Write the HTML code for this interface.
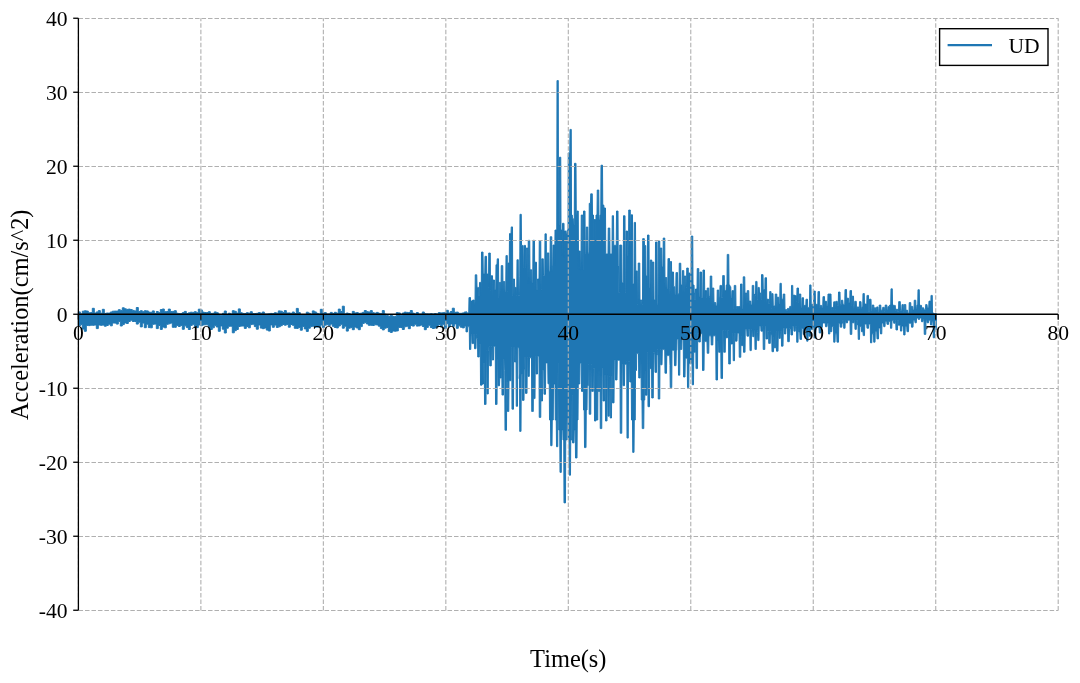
<!DOCTYPE html>
<html><head><meta charset="utf-8"><style>
html,body{margin:0;padding:0;background:#fff;width:1080px;height:683px;overflow:hidden}
svg{display:block;will-change:transform}
.tk{font-family:"Liberation Serif",serif;font-size:21.6px;fill:#000}
.lb{font-family:"Liberation Serif",serif;font-size:24.4px;fill:#000}
</style></head><body>
<svg width="1080" height="683" viewBox="0 0 1080 683">
<polygon points="78.30,311.9 80.30,311.9 80.30,313.9 82.30,313.9 82.30,311.2 84.30,311.2 84.30,310.8 86.30,310.8 86.30,311.1 88.30,311.1 88.30,312.8 90.30,312.8 90.30,312.6 92.30,312.6 92.30,308.3 94.30,308.3 94.30,313.0 96.30,313.0 96.30,311.9 98.30,311.9 98.30,310.6 100.30,310.6 100.30,313.2 102.30,313.2 102.30,309.3 104.30,309.3 104.30,313.4 106.30,313.4 106.30,313.0 108.30,313.0 108.30,313.1 110.30,313.1 110.30,312.0 112.30,312.0 112.30,311.2 114.30,311.2 114.30,311.1 116.30,311.1 116.30,311.1 118.30,311.1 118.30,309.7 120.30,309.7 120.30,310.4 122.30,310.4 122.30,307.8 124.30,307.8 124.30,308.8 126.30,308.8 126.30,309.4 128.30,309.4 128.30,309.1 130.30,309.1 130.30,309.6 132.30,309.6 132.30,310.4 134.30,310.4 134.30,310.9 136.30,310.9 136.30,307.5 138.30,307.5 138.30,311.6 140.30,311.6 140.30,310.7 142.30,310.7 142.30,311.7 144.30,311.7 144.30,310.7 146.30,310.7 146.30,310.9 148.30,310.9 148.30,312.1 150.30,312.1 150.30,312.3 152.30,312.3 152.30,310.9 154.30,310.9 154.30,313.5 156.30,313.5 156.30,311.5 158.30,311.5 158.30,312.7 160.30,312.7 160.30,309.6 162.30,309.6 162.30,309.0 164.30,309.0 164.30,311.7 166.30,311.7 166.30,311.6 168.30,311.6 168.30,309.1 170.30,309.1 170.30,311.6 172.30,311.6 172.30,311.4 174.30,311.4 174.30,310.7 176.30,310.7 176.30,313.2 178.30,313.2 178.30,313.6 180.30,313.6 180.30,313.6 182.30,313.6 182.30,312.6 184.30,312.6 184.30,311.4 186.30,311.4 186.30,313.5 188.30,313.5 188.30,312.8 190.30,312.8 190.30,312.2 192.30,312.2 192.30,312.4 194.30,312.4 194.30,311.7 196.30,311.7 196.30,312.7 198.30,312.7 198.30,309.2 200.30,309.2 200.30,309.9 202.30,309.9 202.30,312.1 204.30,312.1 204.30,312.5 206.30,312.5 206.30,312.6 208.30,312.6 208.30,311.7 210.30,311.7 210.30,313.4 212.30,313.4 212.30,313.3 214.30,313.3 214.30,311.9 216.30,311.9 216.30,312.7 218.30,312.7 218.30,314.2 220.30,314.2 220.30,315.2 222.30,315.2 222.30,313.3 224.30,313.3 224.30,311.0 226.30,311.0 226.30,314.8 228.30,314.8 228.30,313.2 230.30,313.2 230.30,314.0 232.30,314.0 232.30,310.7 234.30,310.7 234.30,311.3 236.30,311.3 236.30,313.1 238.30,313.1 238.30,308.9 240.30,308.9 240.30,312.7 242.30,312.7 242.30,313.4 244.30,313.4 244.30,313.5 246.30,313.5 246.30,312.7 248.30,312.7 248.30,313.2 250.30,313.2 250.30,311.7 252.30,311.7 252.30,313.6 254.30,313.6 254.30,313.5 256.30,313.5 256.30,313.3 258.30,313.3 258.30,312.6 260.30,312.6 260.30,313.3 262.30,313.3 262.30,312.0 264.30,312.0 264.30,314.0 266.30,314.0 266.30,314.0 268.30,314.0 268.30,313.8 270.30,313.8 270.30,313.4 272.30,313.4 272.30,313.6 274.30,313.6 274.30,312.7 276.30,312.7 276.30,313.2 278.30,313.2 278.30,310.9 280.30,310.9 280.30,311.2 282.30,311.2 282.30,312.5 284.30,312.5 284.30,310.6 286.30,310.6 286.30,313.0 288.30,313.0 288.30,312.9 290.30,312.9 290.30,313.4 292.30,313.4 292.30,312.0 294.30,312.0 294.30,313.6 296.30,313.6 296.30,308.4 298.30,308.4 298.30,312.6 300.30,312.6 300.30,314.5 302.30,314.5 302.30,314.7 304.30,314.7 304.30,314.9 306.30,314.9 306.30,312.2 308.30,312.2 308.30,313.2 310.30,313.2 310.30,314.3 312.30,314.3 312.30,310.9 314.30,310.9 314.30,311.9 316.30,311.9 316.30,313.3 318.30,313.3 318.30,314.1 320.30,314.1 320.30,309.3 322.30,309.3 322.30,312.9 324.30,312.9 324.30,312.6 326.30,312.6 326.30,314.0 328.30,314.0 328.30,313.9 330.30,313.9 330.30,312.4 332.30,312.4 332.30,313.5 334.30,313.5 334.30,312.3 336.30,312.3 336.30,313.2 338.30,313.2 338.30,309.1 340.30,309.1 340.30,311.5 342.30,311.5 342.30,306.2 344.30,306.2 344.30,313.9 346.30,313.9 346.30,313.0 348.30,313.0 348.30,313.6 350.30,313.6 350.30,314.5 352.30,314.5 352.30,311.4 354.30,311.4 354.30,312.9 356.30,312.9 356.30,312.6 358.30,312.6 358.30,313.4 360.30,313.4 360.30,313.2 362.30,313.2 362.30,312.4 364.30,312.4 364.30,310.5 366.30,310.5 366.30,311.7 368.30,311.7 368.30,312.0 370.30,312.0 370.30,310.6 372.30,310.6 372.30,312.7 374.30,312.7 374.30,313.2 376.30,313.2 376.30,312.4 378.30,312.4 378.30,313.3 380.30,313.3 380.30,313.7 382.30,313.7 382.30,310.6 384.30,310.6 384.30,314.1 386.30,314.1 386.30,315.4 388.30,315.4 388.30,316.3 390.30,316.3 390.30,315.2 392.30,315.2 392.30,316.3 394.30,316.3 394.30,316.4 396.30,316.4 396.30,312.6 398.30,312.6 398.30,312.9 400.30,312.9 400.30,315.2 402.30,315.2 402.30,313.0 404.30,313.0 404.30,312.1 406.30,312.1 406.30,312.4 408.30,312.4 408.30,312.5 410.30,312.5 410.30,310.5 412.30,310.5 412.30,313.1 414.30,313.1 414.30,314.0 416.30,314.0 416.30,312.5 418.30,312.5 418.30,314.1 420.30,314.1 420.30,314.1 422.30,314.1 422.30,312.0 424.30,312.0 424.30,313.8 426.30,313.8 426.30,313.9 428.30,313.9 428.30,314.0 430.30,314.0 430.30,313.7 432.30,313.7 432.30,314.1 434.30,314.1 434.30,313.6 436.30,313.6 436.30,314.0 438.30,314.0 438.30,312.6 440.30,312.6 440.30,312.9 442.30,312.9 442.30,312.7 444.30,312.7 444.30,312.4 446.30,312.4 446.30,310.3 448.30,310.3 448.30,313.0 450.30,313.0 450.30,311.5 452.30,311.5 452.30,308.2 454.30,308.2 454.30,312.3 456.30,312.3 456.30,312.1 458.30,312.1 458.30,313.3 460.30,313.3 460.30,313.3 462.30,313.3 462.30,312.9 464.30,312.9 464.30,312.0 466.00,312.0 466.00,311.8 466.25,311.8 466.50,311.8 466.75,311.8 467.00,313.2 467.25,313.2 467.50,313.2 467.75,312.7 468.00,312.7 468.25,312.7 468.50,312.7 468.75,312.7 469.00,297.5 469.25,297.5 469.50,297.5 469.75,297.5 470.00,297.5 470.25,297.5 470.50,297.5 470.75,313.2 471.00,301.0 471.25,301.0 471.50,301.0 471.75,301.0 472.00,301.0 472.25,301.0 472.50,301.0 472.75,300.0 473.00,300.0 473.25,300.0 473.50,300.0 473.75,300.0 474.00,300.0 474.25,300.0 474.50,305.0 474.75,305.0 475.00,305.0 475.25,274.8 475.50,274.8 475.75,274.8 476.00,274.8 476.25,274.8 476.50,274.8 476.75,274.8 477.00,287.4 477.25,287.4 477.50,287.4 477.75,287.4 478.00,287.4 478.25,287.4 478.50,287.4 478.75,295.5 479.00,295.5 479.25,295.5 479.50,282.4 479.75,282.4 480.00,282.4 480.25,282.4 480.50,282.4 480.75,282.4 481.00,282.4 481.25,295.5 481.50,252.0 481.75,252.0 482.00,252.0 482.25,252.0 482.50,252.0 482.75,252.0 483.00,252.0 483.25,274.0 483.50,274.0 483.75,274.0 484.00,274.0 484.25,274.0 484.50,274.0 484.75,274.0 485.00,256.3 485.25,256.3 485.50,256.3 485.75,256.3 486.00,256.3 486.25,256.3 486.50,256.3 486.75,274.0 487.00,274.0 487.25,274.0 487.50,274.0 487.75,274.0 488.00,274.0 488.25,287.3 488.50,287.3 488.75,253.0 489.00,253.0 489.25,253.0 489.50,253.0 489.75,253.0 490.00,253.0 490.25,253.0 490.50,290.3 490.75,290.3 491.00,275.7 491.25,275.7 491.50,275.7 491.75,275.7 492.00,275.7 492.25,275.7 492.50,275.7 492.75,297.3 493.00,280.0 493.25,280.0 493.50,280.0 493.75,280.0 494.00,280.0 494.25,280.0 494.50,280.0 494.75,290.0 495.00,290.0 495.25,290.0 495.50,290.0 495.75,290.0 496.00,264.7 496.25,264.7 496.50,264.7 496.75,264.7 497.00,264.7 497.25,258.8 497.50,258.8 497.75,258.8 498.00,258.8 498.25,258.8 498.50,258.8 498.75,297.3 499.00,297.3 499.25,282.4 499.50,282.4 499.75,282.4 500.00,282.4 500.25,282.4 500.50,282.4 500.75,282.4 501.00,292.0 501.25,265.6 501.50,265.6 501.75,265.6 502.00,265.6 502.25,265.6 502.50,265.6 502.75,265.6 503.00,292.0 503.25,281.5 503.50,281.5 503.75,281.5 504.00,281.5 504.25,281.5 504.50,281.5 504.75,281.5 505.00,291.3 505.25,291.3 505.50,291.3 505.75,291.3 506.00,255.5 506.25,255.5 506.50,255.5 506.75,255.5 507.00,255.5 507.25,255.5 507.50,291.3 507.75,291.3 508.00,263.0 508.25,263.0 508.50,263.0 508.75,263.0 509.00,263.0 509.25,263.0 509.50,233.6 509.75,233.6 510.00,233.6 510.25,233.6 510.50,233.6 510.75,233.6 511.00,233.6 511.25,226.9 511.50,226.9 511.75,226.9 512.00,226.9 512.25,226.9 512.50,226.9 512.75,295.5 513.00,295.5 513.25,279.0 513.50,279.0 513.75,279.0 514.00,279.0 514.25,279.0 514.50,279.0 514.75,295.5 515.00,287.4 515.25,287.4 515.50,287.4 515.75,287.4 516.00,287.4 516.25,287.4 516.50,295.5 516.75,295.5 517.00,259.7 517.25,259.7 517.50,259.7 517.75,259.7 518.00,259.7 518.25,259.7 518.50,295.5 518.75,295.5 519.00,295.5 519.25,295.5 519.50,295.5 519.75,276.1 520.00,214.3 520.25,214.3 520.50,214.3 520.75,214.3 521.00,214.3 521.25,214.3 521.50,245.4 521.75,245.4 522.00,245.4 522.25,245.4 522.50,245.4 522.75,245.4 523.00,245.4 523.25,267.9 523.50,267.9 523.75,267.9 524.00,245.4 524.25,245.4 524.50,245.4 524.75,245.4 525.00,245.4 525.25,245.4 525.50,245.4 525.75,267.9 526.00,267.9 526.25,248.0 526.50,248.0 526.75,248.0 527.00,248.0 527.25,248.0 527.50,248.0 527.75,248.0 528.00,283.1 528.25,240.3 528.50,240.3 528.75,240.3 529.00,240.3 529.25,240.3 529.50,240.3 529.75,240.3 530.00,283.1 530.25,269.8 530.50,269.8 530.75,269.8 531.00,269.8 531.25,269.8 531.50,269.8 531.75,269.8 532.00,283.1 532.25,283.1 532.50,283.1 532.75,283.1 533.00,240.3 533.25,240.3 533.50,240.3 533.75,240.3 534.00,240.3 534.25,240.3 534.50,240.3 534.75,289.6 535.00,262.2 535.25,262.2 535.50,262.2 535.75,262.2 536.00,262.2 536.25,262.2 536.50,262.2 536.75,289.6 537.00,289.6 537.25,289.6 537.50,279.0 537.75,279.0 538.00,279.0 538.25,279.0 538.50,279.0 538.75,279.0 539.00,279.0 539.25,241.2 539.50,241.2 539.75,241.2 540.00,241.2 540.25,241.2 540.50,241.2 540.75,241.2 541.00,289.6 541.25,289.6 541.50,289.6 541.75,258.8 542.00,258.8 542.25,258.8 542.50,258.8 542.75,258.8 543.00,258.8 543.25,258.8 543.50,275.4 543.75,275.4 544.00,275.4 544.25,275.4 544.50,275.4 544.75,275.4 545.00,233.8 545.25,233.8 545.50,233.8 545.75,233.8 546.00,233.8 546.25,233.8 546.50,275.4 546.75,271.3 547.00,271.3 547.25,252.9 547.50,252.9 547.75,252.9 548.00,252.9 548.25,252.9 548.50,252.9 548.75,252.9 549.00,271.3 549.25,271.3 549.50,271.3 549.75,271.3 550.00,271.3 550.25,236.7 550.50,236.7 550.75,236.7 551.00,236.7 551.25,236.7 551.50,236.7 551.75,236.7 552.00,271.3 552.25,265.8 552.50,265.8 552.75,265.8 553.00,245.0 553.25,245.0 553.50,245.0 553.75,245.0 554.00,245.0 554.25,245.0 554.50,245.0 554.75,265.8 555.00,230.0 555.25,230.0 555.50,230.0 555.75,230.0 556.00,230.0 556.25,230.0 556.50,230.0 556.75,235.0 557.00,80.5 557.25,80.5 557.50,80.5 557.75,80.5 558.00,80.5 558.25,80.5 558.50,225.0 558.75,225.0 559.00,225.0 559.25,225.0 559.50,157.2 559.75,157.2 560.00,157.2 560.25,157.2 560.50,157.2 560.75,157.2 561.00,230.0 561.25,230.0 561.50,230.0 561.75,230.0 562.00,230.0 562.25,256.0 562.50,223.3 562.75,223.3 563.00,223.3 563.25,223.3 563.50,223.3 563.75,223.3 564.00,223.3 564.25,257.9 564.50,231.0 564.75,231.0 565.00,231.0 565.25,231.0 565.50,231.0 565.75,231.0 566.00,231.0 566.25,233.8 566.50,233.8 566.75,233.8 567.00,233.8 567.25,230.0 567.50,230.0 567.75,230.0 568.00,230.0 568.25,152.9 568.50,152.9 568.75,152.9 569.00,152.9 569.25,152.9 569.50,152.9 569.75,152.9 570.00,129.4 570.25,129.4 570.50,129.4 570.75,129.4 571.00,129.4 571.25,129.4 571.50,215.0 571.75,215.0 572.00,215.0 572.25,215.0 572.50,218.6 572.75,218.6 573.00,218.6 573.25,218.6 573.50,225.0 573.75,225.0 574.00,225.0 574.25,225.0 574.50,163.3 574.75,163.3 575.00,163.3 575.25,163.3 575.50,163.3 575.75,163.3 576.00,163.3 576.25,215.0 576.50,215.0 576.75,215.0 577.00,211.0 577.25,211.0 577.50,211.0 577.75,211.0 578.00,211.0 578.25,211.0 578.50,270.0 578.75,251.0 579.00,251.0 579.25,251.0 579.50,251.0 579.75,251.0 580.00,251.0 580.25,251.0 580.50,270.0 580.75,270.0 581.00,270.0 581.25,215.0 581.50,215.0 581.75,215.0 582.00,215.0 582.25,215.0 582.50,215.0 582.75,215.0 583.00,270.0 583.25,270.0 583.50,211.0 583.75,211.0 584.00,211.0 584.25,211.0 584.50,211.0 584.75,211.0 585.00,211.0 585.25,253.2 585.50,253.2 585.75,253.2 586.00,253.2 586.25,227.0 586.50,227.0 586.75,227.0 587.00,227.0 587.25,227.0 587.50,227.0 587.75,227.0 588.00,253.2 588.25,253.2 588.50,253.2 588.75,253.2 589.00,253.2 589.25,203.3 589.50,203.3 589.75,203.3 590.00,203.3 590.25,203.3 590.50,203.3 590.75,193.8 591.00,193.8 591.25,193.8 591.50,193.8 591.75,193.8 592.00,193.8 592.25,193.8 592.50,215.0 592.75,215.0 593.00,215.0 593.25,215.0 593.50,215.0 593.75,247.9 594.00,219.5 594.25,219.5 594.50,219.5 594.75,219.5 595.00,219.5 595.25,219.5 595.50,219.5 595.75,248.3 596.00,215.0 596.25,215.0 596.50,215.0 596.75,215.0 597.00,215.0 597.25,190.0 597.50,190.0 597.75,190.0 598.00,190.0 598.25,190.0 598.50,190.0 598.75,190.0 599.00,220.0 599.25,220.0 599.50,220.0 599.75,220.0 600.00,215.0 600.25,215.0 600.50,215.0 600.75,215.0 601.00,165.2 601.25,165.2 601.50,165.2 601.75,165.2 602.00,165.2 602.25,165.2 602.50,165.2 602.75,205.0 603.00,205.0 603.25,205.0 603.50,205.0 603.75,205.0 604.00,208.0 604.25,208.0 604.50,208.0 604.75,208.0 605.00,208.0 605.25,208.0 605.50,208.0 605.75,253.9 606.00,253.9 606.25,253.9 606.50,253.9 606.75,253.9 607.00,253.9 607.25,253.9 607.50,253.9 607.75,253.9 608.00,253.9 608.25,228.0 608.50,228.0 608.75,228.0 609.00,228.0 609.25,228.0 609.50,228.0 609.75,228.0 610.00,253.9 610.25,253.9 610.50,253.9 610.75,253.9 611.00,253.9 611.25,253.9 611.50,253.9 611.75,253.9 612.00,253.9 612.25,215.7 612.50,215.7 612.75,215.7 613.00,215.7 613.25,215.7 613.50,215.7 613.75,245.3 614.00,245.3 614.25,245.3 614.50,245.3 614.75,245.3 615.00,245.3 615.25,245.3 615.50,245.3 615.75,245.3 616.00,245.3 616.25,245.3 616.50,211.0 616.75,211.0 617.00,211.0 617.25,211.0 617.50,211.0 617.75,211.0 618.00,211.0 618.25,265.9 618.50,265.9 618.75,292.2 619.00,292.2 619.25,292.2 619.50,292.2 619.75,245.0 620.00,245.0 620.25,245.0 620.50,245.0 620.75,245.0 621.00,245.0 621.25,245.0 621.50,245.2 621.75,245.2 622.00,282.7 622.25,282.7 622.50,282.7 622.75,282.7 623.00,282.7 623.25,282.7 623.50,215.7 623.75,215.7 624.00,215.7 624.25,215.7 624.50,215.7 624.75,215.7 625.00,215.7 625.25,292.2 625.50,292.2 625.75,292.2 626.00,231.0 626.25,231.0 626.50,231.0 626.75,231.0 627.00,231.0 627.25,231.0 627.50,231.0 627.75,256.0 628.00,256.0 628.25,256.0 628.50,256.0 628.75,210.0 629.00,210.0 629.25,210.0 629.50,210.0 629.75,210.0 630.00,210.0 630.25,210.0 630.50,256.0 630.75,244.6 631.00,214.8 631.25,214.8 631.50,214.8 631.75,214.8 632.00,214.8 632.25,214.8 632.50,214.8 632.75,283.9 633.00,283.9 633.25,283.9 633.50,283.9 633.75,283.9 634.00,283.9 634.25,222.4 634.50,222.4 634.75,222.4 635.00,222.4 635.25,222.4 635.50,222.4 635.75,270.9 636.00,270.9 636.25,270.9 636.50,270.9 636.75,270.9 637.00,270.9 637.25,270.9 637.50,304.3 637.75,304.3 638.00,304.3 638.25,263.0 638.50,263.0 638.75,263.0 639.00,263.0 639.25,263.0 639.50,263.0 639.75,263.0 640.00,304.3 640.25,300.0 640.50,300.0 640.75,300.0 641.00,300.0 641.25,300.0 641.50,300.0 641.75,300.0 642.00,304.3 642.25,304.3 642.50,304.3 642.75,238.6 643.00,238.6 643.25,238.6 643.50,238.6 643.75,238.6 644.00,238.6 644.25,238.6 644.50,245.5 644.75,245.5 645.00,245.5 645.25,245.5 645.50,245.5 645.75,245.5 646.00,276.0 646.25,276.0 646.50,276.0 646.75,276.0 647.00,276.0 647.25,287.5 647.50,235.0 647.75,235.0 648.00,235.0 648.25,235.0 648.50,235.0 648.75,235.0 649.00,235.0 649.25,287.5 649.50,287.5 649.75,287.5 650.00,287.5 650.25,260.0 650.50,260.0 650.75,260.0 651.00,260.0 651.25,260.0 651.50,260.0 651.75,260.0 652.00,304.3 652.25,262.0 652.50,262.0 652.75,262.0 653.00,262.0 653.25,262.0 653.50,262.0 653.75,262.0 654.00,300.0 654.25,300.0 654.50,300.0 654.75,300.0 655.00,300.0 655.25,300.0 655.50,242.0 655.75,242.0 656.00,242.0 656.25,242.0 656.50,242.0 656.75,242.0 657.00,242.0 657.25,304.3 657.50,304.3 657.75,304.3 658.00,304.3 658.25,241.0 658.50,241.0 658.75,241.0 659.00,241.0 659.25,241.0 659.50,241.0 659.75,241.0 660.00,281.2 660.25,248.0 660.50,248.0 660.75,248.0 661.00,248.0 661.25,248.0 661.50,248.0 661.75,248.0 662.00,267.0 662.25,267.0 662.50,267.0 662.75,267.0 663.00,267.0 663.25,238.0 663.50,238.0 663.75,238.0 664.00,238.0 664.25,238.0 664.50,238.0 664.75,238.0 665.00,288.5 665.25,277.5 665.50,277.5 665.75,277.5 666.00,277.5 666.25,277.5 666.50,277.5 666.75,277.5 667.00,288.5 667.25,288.5 667.50,288.5 667.75,288.5 668.00,258.5 668.25,258.5 668.50,258.5 668.75,258.5 669.00,258.5 669.25,258.5 669.50,258.5 669.75,288.5 670.00,295.0 670.25,261.5 670.50,261.5 670.75,261.5 671.00,261.5 671.25,261.5 671.50,261.5 671.75,295.0 672.00,272.0 672.25,272.0 672.50,272.0 672.75,272.0 673.00,272.0 673.25,272.0 673.50,272.0 673.75,286.7 674.00,286.7 674.25,286.7 674.50,286.7 674.75,286.7 675.00,295.0 675.25,295.0 675.50,295.0 675.75,295.0 676.00,272.5 676.25,272.5 676.50,272.5 676.75,272.5 677.00,272.5 677.25,272.5 677.50,272.5 677.75,295.0 678.00,295.0 678.25,293.8 678.50,293.8 678.75,293.8 679.00,293.8 679.25,263.2 679.50,263.2 679.75,263.2 680.00,263.2 680.25,263.2 680.50,263.2 680.75,263.2 681.00,285.0 681.25,285.0 681.50,285.0 681.75,285.0 682.00,285.0 682.25,293.8 682.50,270.5 682.75,270.5 683.00,270.5 683.25,270.5 683.50,270.5 683.75,270.5 684.00,293.8 684.25,276.0 684.50,276.0 684.75,276.0 685.00,276.0 685.25,276.0 685.50,276.0 685.75,276.0 686.00,287.5 686.25,287.5 686.50,287.5 686.75,268.0 687.00,268.0 687.25,268.0 687.50,268.0 687.75,268.0 688.00,268.0 688.25,268.0 688.50,290.3 688.75,273.0 689.00,273.0 689.25,273.0 689.50,273.0 689.75,273.0 690.00,273.0 690.25,273.0 690.50,280.0 690.75,280.0 691.00,280.0 691.25,236.0 691.50,236.0 691.75,236.0 692.00,236.0 692.25,236.0 692.50,236.0 692.75,236.0 693.00,285.0 693.25,285.0 693.50,285.0 693.75,285.0 694.00,285.0 694.25,293.0 694.50,293.0 694.75,299.4 695.00,299.4 695.25,299.4 695.50,289.0 695.75,289.0 696.00,289.0 696.25,289.0 696.50,289.0 696.75,289.0 697.00,289.0 697.25,268.5 697.50,268.5 697.75,268.5 698.00,268.5 698.25,268.5 698.50,268.5 698.75,268.5 699.00,296.6 699.25,296.6 699.50,296.6 699.75,296.6 700.00,272.0 700.25,272.0 700.50,272.0 700.75,272.0 701.00,272.0 701.25,272.0 701.50,272.0 701.75,297.7 702.00,297.7 702.25,297.7 702.50,297.7 702.75,297.7 703.00,270.0 703.25,270.0 703.50,270.0 703.75,270.0 704.00,270.0 704.25,270.0 704.50,270.0 704.75,297.7 705.00,290.6 705.25,290.6 705.50,290.6 705.75,290.6 706.00,290.6 706.25,290.6 706.50,290.6 706.75,297.7 707.00,297.7 707.25,288.0 707.50,288.0 707.75,288.0 708.00,288.0 708.25,288.0 708.50,288.0 708.75,288.0 709.00,297.7 709.25,297.7 709.50,297.7 709.75,295.9 710.00,295.9 710.25,276.0 710.50,276.0 710.75,276.0 711.00,276.0 711.25,276.0 711.50,276.0 711.75,276.0 712.00,306.0 712.25,288.0 712.50,288.0 712.75,288.0 713.00,288.0 713.25,288.0 713.50,288.0 713.75,288.0 714.00,306.0 714.25,302.5 714.50,302.5 714.75,302.5 715.00,302.5 715.25,302.5 715.50,302.5 715.75,302.5 716.00,306.0 716.25,306.0 716.50,306.0 716.75,306.0 717.00,306.0 717.25,290.0 717.50,290.0 717.75,290.0 718.00,290.0 718.25,290.0 718.50,290.0 718.75,290.0 719.00,306.0 719.25,297.3 719.50,297.3 719.75,297.3 720.00,285.4 720.25,285.4 720.50,285.4 720.75,285.4 721.00,285.4 721.25,285.4 721.50,285.4 721.75,297.7 722.00,297.7 722.25,297.7 722.50,297.7 722.75,275.5 723.00,275.5 723.25,275.5 723.50,275.5 723.75,275.5 724.00,275.5 724.25,275.5 724.50,297.7 724.75,290.6 725.00,290.6 725.25,290.6 725.50,290.6 725.75,290.6 726.00,290.6 726.25,285.0 726.50,285.0 726.75,285.0 727.00,285.0 727.25,254.4 727.50,254.4 727.75,254.4 728.00,254.4 728.25,254.4 728.50,254.4 728.75,254.4 729.00,285.0 729.25,285.0 729.50,285.0 729.75,285.0 730.00,286.7 730.25,286.7 730.50,286.7 730.75,286.7 731.00,297.7 731.25,297.7 731.50,297.7 731.75,297.7 732.00,290.6 732.25,290.6 732.50,290.6 732.75,290.6 733.00,290.6 733.25,290.6 733.50,290.6 733.75,308.8 734.00,308.8 734.25,285.4 734.50,285.4 734.75,285.4 735.00,285.4 735.25,285.4 735.50,285.4 735.75,285.4 736.00,308.8 736.25,308.8 736.50,306.5 736.75,306.5 737.00,306.5 737.25,306.5 737.50,306.5 737.75,306.5 738.00,306.5 738.25,308.8 738.50,306.5 738.75,306.5 739.00,306.5 739.25,306.5 739.50,306.5 739.75,306.5 740.00,306.5 740.25,308.8 740.50,284.0 740.75,284.0 741.00,284.0 741.25,284.0 741.50,284.0 741.75,284.0 742.00,284.0 742.25,308.8 742.50,308.8 742.75,308.8 743.00,308.8 743.25,276.8 743.50,276.8 743.75,276.8 744.00,276.8 744.25,276.8 744.50,276.8 744.75,276.8 745.00,299.4 745.25,293.0 745.50,293.0 745.75,293.0 746.00,293.0 746.25,293.0 746.50,293.0 746.75,293.0 747.00,305.0 747.25,290.6 747.50,290.6 747.75,290.6 748.00,290.6 748.25,290.6 748.50,290.6 748.75,290.6 749.00,305.0 749.25,301.0 749.50,301.0 749.75,301.0 750.00,301.0 750.25,301.0 750.50,301.0 750.75,301.0 751.00,305.0 751.25,305.0 751.50,305.0 751.75,305.0 752.00,305.0 752.25,285.4 752.50,285.4 752.75,285.4 753.00,285.4 753.25,285.4 753.50,285.4 753.75,285.4 754.00,305.0 754.25,294.1 754.50,294.1 754.75,295.5 755.00,295.5 755.25,295.5 755.50,295.5 755.75,281.4 756.00,281.4 756.25,281.4 756.50,281.4 756.75,281.4 757.00,281.4 757.25,299.4 757.50,299.4 757.75,299.4 758.00,287.4 758.25,287.4 758.50,287.4 758.75,287.4 759.00,287.4 759.25,287.4 759.50,293.0 759.75,293.0 760.00,293.0 760.25,293.0 760.50,293.0 760.75,293.0 761.00,299.4 761.25,299.4 761.50,274.6 761.75,274.6 762.00,274.6 762.25,274.6 762.50,274.6 762.75,274.6 763.00,274.6 763.25,289.5 763.50,289.5 763.75,289.5 764.00,289.5 764.25,289.5 764.50,289.5 764.75,303.7 765.00,277.7 765.25,277.7 765.50,277.7 765.75,277.7 766.00,277.7 766.25,277.7 766.50,277.7 766.75,303.7 767.00,299.2 767.25,299.2 767.50,299.2 767.75,299.2 768.00,299.2 768.25,299.2 768.50,299.2 768.75,303.7 769.00,303.7 769.25,303.7 769.50,303.7 769.75,291.5 770.00,291.5 770.25,291.5 770.50,291.5 770.75,291.5 771.00,291.5 771.25,308.4 771.50,308.4 771.75,293.6 772.00,293.6 772.25,293.6 772.50,293.6 772.75,293.6 773.00,293.6 773.25,305.9 773.50,305.9 773.75,305.9 774.00,305.9 774.25,305.9 774.50,305.9 774.75,305.9 775.00,308.4 775.25,294.0 775.50,294.0 775.75,294.0 776.00,294.0 776.25,294.0 776.50,294.0 776.75,294.0 777.00,308.4 777.25,297.2 777.50,297.2 777.75,297.2 778.00,297.2 778.25,297.2 778.50,297.2 778.75,297.2 779.00,303.7 779.25,303.7 779.50,303.7 779.75,303.7 780.00,283.3 780.25,283.3 780.50,283.3 780.75,283.3 781.00,283.3 781.25,283.3 781.50,303.7 781.75,299.2 782.00,299.2 782.25,299.2 782.50,299.2 782.75,299.2 783.00,299.2 783.25,294.0 783.50,294.0 783.75,294.0 784.00,294.0 784.25,294.0 784.50,294.0 784.75,294.0 785.00,309.5 785.25,309.5 785.50,309.5 785.75,309.5 786.00,309.5 786.25,309.5 786.50,309.5 786.75,310.9 787.00,310.9 787.25,310.9 787.50,308.4 787.75,308.4 788.00,308.4 788.25,308.4 788.50,308.4 788.75,308.4 789.00,308.4 789.25,310.9 789.50,310.9 789.75,306.4 790.00,306.4 790.25,306.4 790.50,306.4 790.75,306.4 791.00,306.4 791.25,310.2 791.50,285.4 791.75,285.4 792.00,285.4 792.25,285.4 792.50,285.4 792.75,285.4 793.00,308.8 793.25,295.1 793.50,295.1 793.75,295.1 794.00,295.1 794.25,295.1 794.50,295.1 794.75,295.1 795.00,295.6 795.25,295.6 795.50,295.6 795.75,295.6 796.00,295.6 796.25,295.6 796.50,301.2 796.75,301.2 797.00,288.0 797.25,288.0 797.50,288.0 797.75,288.0 798.00,288.0 798.25,288.0 798.50,288.0 798.75,302.7 799.00,302.7 799.25,294.0 799.50,294.0 799.75,294.0 800.00,294.0 800.25,294.0 800.50,294.0 800.75,294.0 801.00,308.1 801.25,308.1 801.50,308.1 801.75,308.1 802.00,297.7 802.25,297.7 802.50,297.7 802.75,297.7 803.00,297.7 803.25,297.7 803.50,297.7 803.75,308.1 804.00,305.4 804.25,305.4 804.50,305.4 804.75,305.4 805.00,305.4 805.25,305.4 805.50,305.4 805.75,308.1 806.00,299.2 806.25,299.2 806.50,299.2 806.75,299.2 807.00,299.2 807.25,299.2 807.50,299.2 807.75,308.1 808.00,308.1 808.25,308.1 808.50,308.1 808.75,307.3 809.00,307.3 809.25,307.3 809.50,307.3 809.75,284.9 810.00,284.9 810.25,284.9 810.50,284.9 810.75,284.9 811.00,284.9 811.25,307.3 811.50,307.3 811.75,304.3 812.00,304.3 812.25,304.3 812.50,304.3 812.75,304.3 813.00,304.3 813.25,307.3 813.50,307.3 813.75,291.0 814.00,291.0 814.25,291.0 814.50,291.0 814.75,291.0 815.00,291.0 815.25,291.0 815.50,307.3 815.75,304.3 816.00,304.3 816.25,304.3 816.50,304.3 816.75,304.3 817.00,304.3 817.25,304.3 817.50,308.1 817.75,308.1 818.00,291.5 818.25,291.5 818.50,291.5 818.75,291.5 819.00,291.5 819.25,291.5 819.50,291.5 819.75,308.1 820.00,308.1 820.25,305.4 820.50,305.4 820.75,305.4 821.00,305.4 821.25,305.4 821.50,305.4 821.75,305.4 822.00,308.1 822.25,308.1 822.50,308.1 822.75,308.1 823.00,296.6 823.25,296.6 823.50,296.6 823.75,296.6 824.00,296.6 824.25,296.6 824.50,296.6 824.75,308.1 825.00,301.3 825.25,301.3 825.50,301.3 825.75,301.3 826.00,301.3 826.25,301.3 826.50,301.3 826.75,305.2 827.00,305.2 827.25,305.2 827.50,305.2 827.75,305.2 828.00,294.0 828.25,294.0 828.50,294.0 828.75,294.0 829.00,294.0 829.25,294.0 829.50,294.0 829.75,294.0 830.00,294.0 830.25,294.0 830.50,294.0 830.75,294.0 831.00,294.0 831.25,309.5 831.50,309.5 831.75,307.4 832.00,307.4 832.25,307.4 832.50,307.4 832.75,307.4 833.00,307.4 833.25,309.5 833.50,309.5 833.75,301.8 834.00,301.8 834.25,301.8 834.50,301.8 834.75,301.8 835.00,301.8 835.25,309.5 835.50,309.5 835.75,301.3 836.00,301.3 836.25,301.3 836.50,301.3 836.75,301.3 837.00,301.3 837.25,301.3 837.50,305.5 837.75,305.5 838.00,305.5 838.25,305.5 838.50,292.0 838.75,292.0 839.00,292.0 839.25,292.0 839.50,292.0 839.75,292.0 840.00,292.0 840.25,305.2 840.50,305.2 840.75,304.4 841.00,304.4 841.25,304.4 841.50,300.2 841.75,300.2 842.00,300.2 842.25,300.2 842.50,300.2 842.75,300.2 843.00,304.4 843.25,304.4 843.50,304.4 843.75,304.4 844.00,304.4 844.25,304.4 844.50,304.4 844.75,304.4 845.00,289.5 845.25,289.5 845.50,289.5 845.75,289.5 846.00,289.5 846.25,289.5 846.50,289.5 846.75,303.0 847.00,298.2 847.25,298.2 847.50,298.2 847.75,298.2 848.00,298.2 848.25,298.2 848.50,298.2 848.75,303.0 849.00,303.0 849.25,303.0 849.50,303.0 849.75,303.0 850.00,290.5 850.25,290.5 850.50,290.5 850.75,290.5 851.00,290.5 851.25,290.5 851.50,290.5 851.75,305.2 852.00,305.2 852.25,296.1 852.50,296.1 852.75,296.1 853.00,296.1 853.25,296.1 853.50,296.1 853.75,305.2 854.00,309.1 854.25,309.1 854.50,309.1 854.75,301.3 855.00,301.3 855.25,301.3 855.50,301.3 855.75,301.3 856.00,301.3 856.25,301.3 856.50,309.1 856.75,309.1 857.00,309.1 857.25,306.9 857.50,306.9 857.75,306.9 858.00,306.9 858.25,306.9 858.50,306.9 858.75,309.1 859.00,309.1 859.25,309.1 859.50,301.6 859.75,301.6 860.00,301.6 860.25,301.6 860.50,301.6 860.75,301.6 861.00,301.6 861.25,309.1 861.50,309.1 861.75,309.1 862.00,307.1 862.25,307.1 862.50,307.1 862.75,307.1 863.00,293.5 863.25,293.5 863.50,293.5 863.75,293.5 864.00,293.5 864.25,293.5 864.50,307.1 864.75,304.0 865.00,304.0 865.25,304.0 865.50,304.0 865.75,304.0 866.00,304.0 866.25,304.0 866.50,307.1 866.75,307.1 867.00,295.4 867.25,295.4 867.50,295.4 867.75,295.4 868.00,295.4 868.25,295.4 868.50,295.4 868.75,311.4 869.00,311.4 869.25,311.4 869.50,299.2 869.75,299.2 870.00,299.2 870.25,299.2 870.50,299.2 870.75,299.2 871.00,299.2 871.25,310.2 871.50,310.2 871.75,310.2 872.00,310.2 872.25,305.0 872.50,305.0 872.75,305.0 873.00,305.0 873.25,305.0 873.50,305.0 873.75,305.0 874.00,311.4 874.25,307.8 874.50,307.8 874.75,307.8 875.00,307.8 875.25,307.8 875.50,307.8 875.75,307.8 876.00,309.7 876.25,309.7 876.50,309.7 876.75,306.9 877.00,306.9 877.25,306.9 877.50,306.9 877.75,306.9 878.00,306.9 878.25,311.4 878.50,311.4 878.75,311.4 879.00,311.4 879.25,305.0 879.50,305.0 879.75,305.0 880.00,305.0 880.25,305.0 880.50,305.0 880.75,305.0 881.00,310.2 881.25,310.2 881.50,310.2 881.75,310.2 882.00,310.2 882.25,310.2 882.50,311.4 882.75,307.3 883.00,307.3 883.25,307.3 883.50,307.3 883.75,307.3 884.00,307.3 884.25,307.3 884.50,311.4 884.75,311.4 885.00,311.4 885.25,305.0 885.50,305.0 885.75,305.0 886.00,305.0 886.25,305.0 886.50,305.0 886.75,305.0 887.00,309.4 887.25,309.4 887.50,309.4 887.75,308.8 888.00,306.4 888.25,306.4 888.50,306.4 888.75,306.4 889.00,306.4 889.25,306.4 889.50,306.4 889.75,305.0 890.00,305.0 890.25,305.0 890.50,305.0 890.75,305.0 891.00,288.8 891.25,288.8 891.50,288.8 891.75,288.8 892.00,288.8 892.25,288.8 892.50,305.0 892.75,305.0 893.00,305.0 893.25,305.0 893.50,305.0 893.75,305.4 894.00,305.4 894.25,305.4 894.50,305.4 894.75,305.4 895.00,305.4 895.25,305.4 895.50,310.7 895.75,310.7 896.00,310.7 896.25,309.2 896.50,309.2 896.75,309.2 897.00,309.2 897.25,309.2 897.50,309.2 897.75,311.4 898.00,311.4 898.25,311.4 898.50,311.4 898.75,301.6 899.00,301.6 899.25,301.6 899.50,301.6 899.75,301.6 900.00,301.6 900.25,301.6 900.50,310.2 900.75,310.2 901.00,310.2 901.25,310.2 901.50,310.2 901.75,310.2 902.00,304.5 902.25,304.5 902.50,304.5 902.75,304.5 903.00,304.5 903.25,304.5 903.50,311.4 903.75,311.4 904.00,313.4 904.25,304.5 904.50,304.5 904.75,304.5 905.00,304.5 905.25,304.5 905.50,304.5 905.75,304.5 906.00,313.4 906.25,310.2 906.50,310.2 906.75,310.2 907.00,310.2 907.25,310.2 907.50,310.2 907.75,313.0 908.00,313.0 908.25,313.0 908.50,313.0 908.75,313.4 909.00,313.4 909.25,302.6 909.50,302.6 909.75,302.6 910.00,302.6 910.25,302.6 910.50,302.6 910.75,302.6 911.00,313.4 911.25,306.4 911.50,306.4 911.75,306.4 912.00,306.4 912.25,306.4 912.50,306.4 912.75,306.4 913.00,310.1 913.25,310.1 913.50,310.1 913.75,310.1 914.00,310.1 914.25,300.2 914.50,300.2 914.75,300.2 915.00,300.2 915.25,300.2 915.50,300.2 915.75,300.2 916.00,308.3 916.25,308.3 916.50,308.3 916.75,308.3 917.00,305.0 917.25,305.0 917.50,305.0 917.75,305.0 918.00,289.7 918.25,289.7 918.50,289.7 918.75,289.7 919.00,289.7 919.25,289.7 919.50,305.0 919.75,305.0 920.00,305.0 920.25,305.0 920.50,305.4 920.75,305.4 921.00,305.4 921.25,305.4 921.50,305.4 921.75,309.7 922.00,309.7 922.25,307.8 922.50,307.8 922.75,307.8 923.00,307.8 923.25,307.8 923.50,307.8 923.75,307.8 924.00,309.7 924.25,309.7 924.50,309.7 924.75,309.7 925.00,309.7 925.25,309.7 925.50,309.7 925.75,304.5 926.00,304.5 926.25,304.5 926.50,304.5 926.75,304.5 927.00,304.5 927.25,307.4 927.50,307.4 927.75,307.4 928.00,307.4 928.25,307.4 928.50,307.4 928.75,307.4 929.00,301.1 929.25,301.1 929.50,301.1 929.75,301.1 930.00,301.1 930.25,301.1 930.50,301.1 930.75,313.4 931.00,295.4 931.25,295.4 931.50,295.4 931.75,295.4 932.00,295.4 932.25,295.4 932.50,313.0 932.75,313.0 933.00,313.0 933.25,313.0 933.50,313.0 933.75,313.0 934.00,313.7 934.25,313.7 934.50,313.7 934.75,313.5 935.00,313.5 935.25,313.5 935.50,313.5 935.75,313.5 936.00,313.5 936.25,313.5 936.50,325.3 936.25,330.0 936.00,330.0 935.75,330.0 935.50,330.0 935.25,330.0 935.00,330.0 934.75,330.0 934.50,337.8 934.25,337.8 934.00,337.8 933.75,337.8 933.50,337.8 933.25,337.8 933.00,321.8 932.75,321.8 932.50,321.8 932.25,321.8 932.00,321.8 931.75,325.0 931.50,325.0 931.25,325.0 931.00,325.0 930.75,325.0 930.50,325.0 930.25,320.2 930.00,320.2 929.75,320.2 929.50,320.2 929.25,320.2 929.00,320.2 928.75,320.2 928.50,322.8 928.25,322.8 928.00,322.8 927.75,322.8 927.50,322.8 927.25,322.8 927.00,322.8 926.75,320.2 926.50,320.2 926.25,320.2 926.00,319.5 925.75,334.4 925.50,334.4 925.25,334.4 925.00,334.4 924.75,334.4 924.50,334.4 924.25,334.4 924.00,319.5 923.75,319.5 923.50,319.5 923.25,319.5 923.00,321.7 922.75,321.7 922.50,321.7 922.25,321.7 922.00,321.7 921.75,321.7 921.50,321.7 921.25,317.9 921.00,317.9 920.75,317.9 920.50,317.9 920.25,317.9 920.00,317.9 919.75,317.9 919.50,319.4 919.25,319.4 919.00,319.4 918.75,319.4 918.50,319.4 918.25,319.4 918.00,317.9 917.75,317.9 917.50,317.9 917.25,317.9 917.00,317.9 916.75,317.9 916.50,317.9 916.25,322.8 916.00,322.8 915.75,322.8 915.50,322.8 915.25,322.8 915.00,322.8 914.75,320.2 914.50,320.2 914.25,320.2 914.00,320.2 913.75,320.2 913.50,320.2 913.25,320.2 913.00,327.2 912.75,327.2 912.50,327.2 912.25,327.2 912.00,327.2 911.75,327.2 911.50,327.2 911.25,323.3 911.00,323.3 910.75,323.3 910.50,323.3 910.25,323.3 910.00,323.3 909.75,323.3 909.50,323.3 909.25,323.3 909.00,323.3 908.75,323.3 908.50,331.7 908.25,331.7 908.00,331.7 907.75,331.7 907.50,331.7 907.25,331.7 907.00,331.7 906.75,326.5 906.50,326.5 906.25,326.5 906.00,326.5 905.75,326.5 905.50,326.5 905.25,326.5 905.00,335.0 904.75,335.0 904.50,335.0 904.25,335.0 904.00,335.0 903.75,335.0 903.50,326.0 903.25,326.0 903.00,326.0 902.75,326.0 902.50,326.0 902.25,326.0 902.00,326.0 901.75,331.1 901.50,331.1 901.25,331.1 901.00,331.1 900.75,331.1 900.50,331.1 900.25,325.3 900.00,325.3 899.75,325.3 899.50,325.3 899.25,325.3 899.00,325.3 898.75,325.3 898.50,325.3 898.25,320.6 898.00,320.6 897.75,320.6 897.50,330.0 897.25,330.0 897.00,330.0 896.75,330.0 896.50,330.0 896.25,330.0 896.00,330.0 895.75,320.6 895.50,320.6 895.25,320.6 895.00,323.3 894.75,323.3 894.50,323.3 894.25,323.3 894.00,323.3 893.75,323.3 893.50,320.6 893.25,320.6 893.00,320.6 892.75,320.6 892.50,320.6 892.25,320.6 892.00,320.6 891.75,328.3 891.50,328.3 891.25,328.3 891.00,328.3 890.75,328.3 890.50,328.3 890.25,321.4 890.00,321.4 889.75,321.4 889.50,321.4 889.25,321.4 889.00,321.4 888.75,321.4 888.50,324.4 888.25,324.4 888.00,324.4 887.75,324.4 887.50,324.4 887.25,324.4 887.00,324.4 886.75,321.4 886.50,321.4 886.25,321.4 886.00,321.4 885.75,321.4 885.50,321.4 885.25,321.4 885.00,326.7 884.75,326.7 884.50,326.7 884.25,326.7 884.00,326.7 883.75,326.7 883.50,323.0 883.25,323.0 883.00,323.0 882.75,323.0 882.50,323.0 882.25,323.0 882.00,323.0 881.75,333.9 881.50,333.9 881.25,333.9 881.00,333.9 880.75,333.9 880.50,333.9 880.25,328.0 880.00,328.0 879.75,328.0 879.50,328.0 879.25,328.0 879.00,328.0 878.75,328.0 878.50,338.9 878.25,338.9 878.00,338.9 877.75,338.9 877.50,338.9 877.25,338.9 877.00,338.9 876.75,331.5 876.50,331.5 876.25,331.5 876.00,331.5 875.75,331.5 875.50,331.5 875.25,331.5 875.00,342.2 874.75,342.2 874.50,342.2 874.25,342.2 874.00,342.2 873.75,342.2 873.50,333.8 873.25,333.8 873.00,333.8 872.75,333.8 872.50,333.8 872.25,333.8 872.00,333.8 871.75,342.8 871.50,342.8 871.25,342.8 871.00,342.8 870.75,342.8 870.50,342.8 870.25,324.1 870.00,324.1 869.75,324.1 869.50,324.1 869.25,324.1 869.00,324.1 868.75,324.1 868.50,328.3 868.25,328.3 868.00,328.3 867.75,328.3 867.50,328.3 867.25,328.3 867.00,328.3 866.75,324.1 866.50,324.1 866.25,324.1 866.00,324.1 865.75,324.1 865.50,324.1 865.25,324.1 865.00,324.1 864.75,324.1 864.50,335.6 864.25,335.6 864.00,335.6 863.75,335.6 863.50,335.6 863.25,335.6 863.00,331.7 862.75,331.7 862.50,331.7 862.25,331.7 862.00,331.7 861.75,331.7 861.50,331.7 861.25,326.5 861.00,326.5 860.75,326.5 860.50,326.5 860.25,326.5 860.00,326.5 859.75,326.5 859.50,339.4 859.25,339.4 859.00,339.4 858.75,339.4 858.50,339.4 858.25,339.4 858.00,324.9 857.75,324.9 857.50,324.9 857.25,320.2 857.00,320.2 856.75,320.2 856.50,320.2 856.25,329.4 856.00,329.4 855.75,329.4 855.50,329.4 855.25,329.4 855.00,329.4 854.75,320.2 854.50,320.2 854.25,320.2 854.00,322.8 853.75,322.8 853.50,322.8 853.25,322.8 853.00,322.8 852.75,322.8 852.50,322.8 852.25,320.2 852.00,320.2 851.75,334.4 851.50,334.4 851.25,334.4 851.00,334.4 850.75,334.4 850.50,334.4 850.25,334.4 850.00,320.2 849.75,320.2 849.50,320.2 849.25,320.2 849.00,320.2 848.75,320.2 848.50,320.2 848.25,320.2 848.00,320.2 847.75,320.2 847.50,322.8 847.25,322.8 847.00,322.8 846.75,322.8 846.50,322.8 846.25,322.8 846.00,322.8 845.75,320.2 845.50,320.2 845.25,320.2 845.00,328.3 844.75,328.3 844.50,328.3 844.25,328.3 844.00,328.3 843.75,328.3 843.50,320.2 843.25,320.2 843.00,320.2 842.75,320.2 842.50,323.3 842.25,323.3 842.00,323.3 841.75,327.2 841.50,327.2 841.25,327.2 841.00,327.2 840.75,327.2 840.50,327.2 840.25,327.2 840.00,323.3 839.75,323.3 839.50,323.3 839.25,323.3 839.00,323.3 838.75,323.3 838.50,342.2 838.25,342.2 838.00,342.2 837.75,342.2 837.50,342.2 837.25,342.2 837.00,342.2 836.75,333.8 836.50,333.8 836.25,333.8 836.00,333.8 835.75,333.8 835.50,333.8 835.25,333.8 835.00,342.2 834.75,342.2 834.50,342.2 834.25,342.2 834.00,342.2 833.75,342.2 833.50,326.5 833.25,326.5 833.00,326.5 832.75,326.5 832.50,326.5 832.25,326.5 832.00,326.5 831.75,331.7 831.50,331.7 831.25,331.7 831.00,331.7 830.75,331.7 830.50,331.7 830.25,331.7 830.00,323.0 829.75,334.0 829.50,334.0 829.25,334.0 829.00,334.0 828.75,334.0 828.50,334.0 828.25,323.0 828.00,323.0 827.75,323.0 827.50,323.0 827.25,323.0 827.00,326.7 826.75,326.7 826.50,326.7 826.25,326.7 826.00,326.7 825.75,326.7 825.50,326.7 825.25,323.0 825.00,323.0 824.75,323.0 824.50,323.0 824.25,323.0 824.00,323.0 823.75,323.0 823.50,323.0 823.25,323.0 823.00,323.0 822.75,323.0 822.50,323.0 822.25,327.4 822.00,327.4 821.75,327.4 821.50,327.4 821.25,327.4 821.00,327.4 820.75,333.0 820.50,333.0 820.25,333.0 820.00,333.0 819.75,333.0 819.50,333.0 819.25,333.0 819.00,327.4 818.75,327.4 818.50,327.4 818.25,327.4 818.00,327.4 817.75,327.4 817.50,327.4 817.25,327.4 817.00,327.4 816.75,327.4 816.50,327.4 816.25,327.4 816.00,327.4 815.75,338.0 815.50,338.0 815.25,338.0 815.00,338.0 814.75,338.0 814.50,338.0 814.25,338.0 814.00,330.9 813.75,330.9 813.50,329.6 813.25,329.6 813.00,329.6 812.75,329.6 812.50,329.6 812.25,329.6 812.00,329.6 811.75,329.6 811.50,329.6 811.25,329.6 811.00,329.6 810.75,329.6 810.50,329.6 810.25,336.2 810.00,336.2 809.75,336.2 809.50,336.2 809.25,336.2 809.00,336.2 808.75,329.6 808.50,329.6 808.25,329.6 808.00,341.2 807.75,341.2 807.50,341.2 807.25,341.2 807.00,341.2 806.75,341.2 806.50,328.4 806.25,328.4 806.00,328.4 805.75,328.4 805.50,328.4 805.25,328.4 805.00,328.4 804.75,334.5 804.50,334.5 804.25,334.5 804.00,334.5 803.75,334.5 803.50,334.5 803.25,334.5 803.00,328.4 802.75,328.4 802.50,328.4 802.25,328.4 802.00,328.4 801.75,328.4 801.50,339.5 801.25,339.5 801.00,339.5 800.75,339.5 800.50,339.5 800.25,339.5 800.00,339.5 799.75,331.9 799.50,331.9 799.25,331.9 799.00,331.9 798.75,331.9 798.50,326.1 798.25,326.1 798.00,342.3 797.75,342.3 797.50,342.3 797.25,342.3 797.00,342.3 796.75,342.3 796.50,326.1 796.25,326.1 796.00,326.1 795.75,326.1 795.50,326.1 795.25,331.2 795.00,331.2 794.75,331.2 794.50,331.2 794.25,331.2 794.00,331.2 793.75,326.1 793.50,326.1 793.25,326.1 793.00,326.1 792.75,326.1 792.50,335.0 792.25,335.0 792.00,335.0 791.75,335.0 791.50,335.0 791.25,335.0 791.00,335.0 790.75,326.1 790.50,328.8 790.25,328.8 790.00,328.8 789.75,328.8 789.50,328.8 789.25,341.7 789.00,341.7 788.75,341.7 788.50,341.7 788.25,341.7 788.00,341.7 787.75,341.7 787.50,328.1 787.25,328.1 787.00,328.1 786.75,328.1 786.50,328.1 786.25,328.1 786.00,328.1 785.75,334.0 785.50,334.0 785.25,334.0 785.00,334.0 784.75,334.0 784.50,334.0 784.25,328.1 784.00,328.1 783.75,328.1 783.50,328.1 783.25,328.1 783.00,346.2 782.75,346.2 782.50,346.2 782.25,346.2 782.00,346.2 781.75,346.2 781.50,346.2 781.25,328.1 781.00,331.2 780.75,331.2 780.50,331.2 780.25,338.4 780.00,338.4 779.75,338.4 779.50,338.4 779.25,338.4 779.00,338.4 778.75,331.2 778.50,331.2 778.25,331.2 778.00,351.2 777.75,351.2 777.50,351.2 777.25,351.2 777.00,351.2 776.75,351.2 776.50,351.2 776.25,331.2 776.00,331.2 775.75,347.8 775.50,347.8 775.25,347.8 775.00,347.8 774.75,347.8 774.50,347.8 774.25,347.8 774.00,337.7 773.75,337.7 773.50,351.7 773.25,351.7 773.00,351.7 772.75,351.7 772.50,351.7 772.25,351.7 772.00,351.7 771.75,334.7 771.50,334.7 771.25,334.7 771.00,334.7 770.75,331.6 770.50,331.6 770.25,343.4 770.00,343.4 769.75,343.4 769.50,343.4 769.25,343.4 769.00,343.4 768.75,343.4 768.50,331.6 768.25,331.6 768.00,331.6 767.75,331.6 767.50,339.0 767.25,339.0 767.00,339.0 766.75,339.0 766.50,339.0 766.25,339.0 766.00,339.0 765.75,326.1 765.50,326.1 765.25,326.1 765.00,326.1 764.75,349.5 764.50,349.5 764.25,349.5 764.00,349.5 763.75,349.5 763.50,349.5 763.25,349.5 763.00,326.1 762.75,326.1 762.50,331.2 762.25,331.2 762.00,331.2 761.75,331.2 761.50,331.2 761.25,331.2 761.00,331.2 760.75,326.1 760.50,326.1 760.25,326.1 760.00,326.1 759.75,326.1 759.50,326.1 759.25,326.1 759.00,340.6 758.75,340.6 758.50,340.6 758.25,340.6 758.00,340.6 757.75,340.6 757.50,332.7 757.25,330.0 757.00,330.0 756.75,330.0 756.50,330.0 756.25,349.5 756.00,349.5 755.75,349.5 755.50,349.5 755.25,349.5 755.00,349.5 754.75,330.0 754.50,330.0 754.25,330.0 754.00,336.7 753.75,336.7 753.50,336.7 753.25,336.7 753.00,336.7 752.75,336.7 752.50,330.0 752.25,330.0 752.00,330.0 751.75,329.6 751.50,329.6 751.25,350.6 751.00,350.6 750.75,350.6 750.50,350.6 750.25,350.6 750.00,350.6 749.75,329.6 749.50,329.6 749.25,329.6 749.00,329.6 748.75,329.6 748.50,336.2 748.25,336.2 748.00,336.2 747.75,336.2 747.50,336.2 747.25,336.2 747.00,336.2 746.75,329.6 746.50,329.6 746.25,329.6 746.00,329.6 745.75,329.6 745.50,329.6 745.25,329.6 745.00,352.3 744.75,352.3 744.50,352.3 744.25,352.3 744.00,352.3 743.75,352.3 743.50,352.3 743.25,336.2 743.00,345.6 742.75,345.6 742.50,345.6 742.25,345.6 742.00,345.6 741.75,345.6 741.50,345.6 741.25,336.2 741.00,336.2 740.75,357.3 740.50,357.3 740.25,357.3 740.00,357.3 739.75,357.3 739.50,357.3 739.25,357.3 739.00,333.1 738.75,333.1 738.50,333.1 738.25,333.1 738.00,333.1 737.75,333.1 737.50,333.1 737.25,333.1 737.00,341.2 736.75,341.2 736.50,341.2 736.25,341.2 736.00,341.2 735.75,341.2 735.50,341.2 735.25,333.1 735.00,333.1 734.75,333.1 734.50,360.7 734.25,360.7 734.00,360.7 733.75,360.7 733.50,360.7 733.25,360.7 733.00,333.1 732.75,333.1 732.50,344.0 732.25,344.0 732.00,344.0 731.75,344.0 731.50,344.0 731.25,344.0 731.00,344.0 730.75,335.1 730.50,330.7 730.25,364.0 730.00,364.0 729.75,364.0 729.50,364.0 729.25,364.0 729.00,364.0 728.75,364.0 728.50,330.7 728.25,330.7 728.00,330.7 727.75,330.7 727.50,337.8 727.25,337.8 727.00,337.8 726.75,337.8 726.50,337.8 726.25,337.8 726.00,337.8 725.75,330.7 725.50,330.7 725.25,352.3 725.00,352.3 724.75,352.3 724.50,352.3 724.25,352.3 724.00,352.3 723.75,352.3 723.50,330.7 723.25,330.7 723.00,330.7 722.75,330.7 722.50,378.5 722.25,378.5 722.00,378.5 721.75,378.5 721.50,378.5 721.25,378.5 721.00,378.5 720.75,340.9 720.50,340.9 720.25,352.3 720.00,352.3 719.75,352.3 719.50,352.3 719.25,352.3 719.00,352.3 718.75,352.3 718.50,340.9 718.25,340.9 718.00,340.9 717.75,340.9 717.50,380.0 717.25,380.0 717.00,380.0 716.75,380.0 716.50,380.0 716.25,380.0 716.00,380.0 715.75,335.8 715.50,335.8 715.25,335.8 715.00,335.8 714.75,335.8 714.50,335.8 714.25,335.8 714.00,335.8 713.75,335.8 713.50,335.8 713.25,335.8 713.00,335.8 712.75,345.0 712.50,345.0 712.25,345.0 712.00,345.0 711.75,345.0 711.50,345.0 711.25,345.0 711.00,335.8 710.75,335.8 710.50,335.8 710.25,335.8 710.00,335.8 709.75,335.8 709.50,335.8 709.25,335.8 709.00,335.8 708.75,353.3 708.50,353.3 708.25,353.3 708.00,353.3 707.75,353.3 707.50,353.3 707.25,353.3 707.00,341.6 706.75,341.6 706.50,341.6 706.25,341.6 706.00,341.6 705.75,341.6 705.50,341.6 705.25,341.6 705.00,341.6 704.75,341.6 704.50,341.6 704.25,341.6 704.00,370.5 703.75,370.5 703.50,370.5 703.25,370.5 703.00,370.5 702.75,370.5 702.50,370.5 702.25,333.7 702.00,333.7 701.75,333.7 701.50,333.7 701.25,333.7 701.00,333.7 700.75,333.7 700.50,333.7 700.25,342.0 700.00,342.0 699.75,342.0 699.50,342.0 699.25,342.0 699.00,342.0 698.75,342.0 698.50,333.7 698.25,333.7 698.00,333.7 697.75,333.7 697.50,368.6 697.25,368.6 697.00,368.6 696.75,368.6 696.50,368.6 696.25,368.6 696.00,368.6 695.75,333.7 695.50,333.7 695.25,352.3 695.00,352.3 694.75,352.3 694.50,352.3 694.25,352.3 694.00,352.3 693.75,352.3 693.50,384.8 693.25,384.8 693.00,384.8 692.75,384.8 692.50,384.8 692.25,384.8 692.00,363.6 691.75,363.6 691.50,363.6 691.25,363.6 691.00,363.6 690.75,363.6 690.50,363.6 690.25,363.6 690.00,363.6 689.75,363.6 689.50,363.6 689.25,363.6 689.00,363.6 688.75,387.6 688.50,387.6 688.25,387.6 688.00,387.6 687.75,387.6 687.50,387.6 687.25,358.2 687.00,358.2 686.75,358.2 686.50,358.2 686.25,358.2 686.00,358.2 685.75,358.2 685.50,358.2 685.25,358.2 685.00,377.0 684.75,377.0 684.50,377.0 684.25,377.0 684.00,377.0 683.75,377.0 683.50,377.0 683.25,338.9 683.00,338.9 682.75,338.9 682.50,338.9 682.25,338.9 682.00,338.9 681.75,349.5 681.50,349.5 681.25,349.5 681.00,349.5 680.75,349.5 680.50,349.5 680.25,349.5 680.00,338.9 679.75,375.2 679.50,375.2 679.25,375.2 679.00,375.2 678.75,375.2 678.50,375.2 678.25,338.9 678.00,338.9 677.75,338.9 677.50,338.9 677.25,338.9 677.00,338.9 676.75,350.3 676.50,350.3 676.25,350.3 676.00,365.7 675.75,365.7 675.50,365.7 675.25,365.7 675.00,365.7 674.75,365.7 674.50,365.7 674.25,350.3 674.00,350.3 673.75,350.3 673.50,350.3 673.25,350.3 673.00,350.3 672.75,350.3 672.50,350.3 672.25,350.3 672.00,350.3 671.75,387.6 671.50,387.6 671.25,387.6 671.00,387.6 670.75,387.6 670.50,387.6 670.25,387.6 670.00,365.6 669.75,355.6 669.50,355.6 669.25,355.6 669.00,355.6 668.75,355.6 668.50,355.6 668.25,355.6 668.00,355.6 667.75,355.6 667.50,355.6 667.25,355.6 667.00,355.6 666.75,355.6 666.50,373.3 666.25,373.3 666.00,373.3 665.75,373.3 665.50,373.3 665.25,373.3 665.00,373.3 664.75,349.6 664.50,349.6 664.25,349.6 664.00,349.6 663.75,349.6 663.50,349.6 663.25,349.6 663.00,349.6 662.75,349.6 662.50,349.6 662.25,349.6 662.00,364.8 661.75,364.8 661.50,364.8 661.25,364.8 661.00,364.8 660.75,364.8 660.50,349.6 660.25,349.6 660.00,349.6 659.75,399.0 659.50,399.0 659.25,399.0 659.00,399.0 658.75,399.0 658.50,399.0 658.25,399.0 658.00,349.6 657.75,349.6 657.50,349.6 657.25,355.0 657.00,355.0 656.75,355.0 656.50,372.4 656.25,372.4 656.00,372.4 655.75,372.4 655.50,372.4 655.25,372.4 655.00,372.4 654.75,355.0 654.50,352.3 654.25,352.3 654.00,352.3 653.75,352.3 653.50,352.3 653.25,398.0 653.00,398.0 652.75,398.0 652.50,398.0 652.25,398.0 652.00,398.0 651.75,398.0 651.50,352.3 651.25,368.6 651.00,368.6 650.75,368.6 650.50,368.6 650.25,368.6 650.00,368.6 649.75,352.3 649.50,406.7 649.25,406.7 649.00,406.7 648.75,406.7 648.50,406.7 648.25,406.7 648.00,406.7 647.75,352.3 647.50,352.3 647.25,352.3 647.00,395.2 646.75,395.2 646.50,395.2 646.25,395.2 646.00,395.2 645.75,395.2 645.50,395.2 645.25,370.9 645.00,370.9 644.75,400.0 644.50,400.0 644.25,400.0 644.00,400.0 643.75,428.6 643.50,428.6 643.25,428.6 643.00,428.6 642.75,428.6 642.50,428.6 642.25,428.6 642.00,400.0 641.75,400.0 641.50,400.0 641.25,400.0 641.00,358.9 640.75,358.9 640.50,358.9 640.25,378.0 640.00,378.0 639.75,378.0 639.50,378.0 639.25,378.0 639.00,378.0 638.75,378.0 638.50,353.6 638.25,353.6 638.00,353.6 637.75,353.6 637.50,353.6 637.25,353.6 637.00,353.6 636.75,353.6 636.50,370.5 636.25,370.5 636.00,370.5 635.75,370.5 635.50,370.5 635.25,420.0 635.00,420.0 634.75,420.0 634.50,420.0 634.25,420.0 634.00,452.4 633.75,452.4 633.50,452.4 633.25,452.4 633.00,452.4 632.75,452.4 632.50,420.0 632.25,420.0 632.00,420.0 631.75,420.0 631.50,420.0 631.25,382.0 631.00,382.0 630.75,382.0 630.50,382.0 630.25,382.0 630.00,382.0 629.75,382.0 629.50,361.7 629.25,361.7 629.00,361.7 628.75,361.7 628.50,361.7 628.25,438.1 628.00,438.1 627.75,438.1 627.50,438.1 627.25,438.1 627.00,438.1 626.75,361.7 626.50,361.7 626.25,364.3 626.00,364.3 625.75,364.3 625.50,364.3 625.25,364.3 625.00,364.3 624.75,364.3 624.50,385.7 624.25,385.7 624.00,385.7 623.75,385.7 623.50,385.7 623.25,385.7 623.00,385.7 622.75,364.3 622.50,364.3 622.25,364.3 622.00,364.3 621.75,433.3 621.50,433.3 621.25,433.3 621.00,433.3 620.75,433.3 620.50,433.3 620.25,433.3 620.00,360.3 619.75,360.3 619.50,360.3 619.25,360.3 619.00,360.3 618.75,360.3 618.50,360.3 618.25,360.3 618.00,360.3 617.75,360.3 617.50,360.3 617.25,360.3 617.00,380.0 616.75,380.0 616.50,380.0 616.25,380.0 616.00,380.0 615.75,380.0 615.50,380.0 615.25,360.3 615.00,360.3 614.75,360.3 614.50,360.3 614.25,360.3 614.00,402.9 613.75,402.9 613.50,402.9 613.25,402.9 613.00,402.9 612.75,402.9 612.50,402.9 612.25,360.3 612.00,376.3 611.75,376.3 611.50,418.0 611.25,418.0 611.00,418.0 610.75,418.0 610.50,418.0 610.25,418.0 610.00,376.3 609.75,376.3 609.50,376.3 609.25,416.2 609.00,416.2 608.75,416.2 608.50,416.2 608.25,416.2 608.00,416.2 607.75,375.0 607.50,375.0 607.25,375.0 607.00,421.0 606.75,421.0 606.50,421.0 606.25,421.0 606.00,421.0 605.75,421.0 605.50,421.0 605.25,375.0 605.00,375.0 604.75,375.0 604.50,401.0 604.25,401.0 604.00,401.0 603.75,401.0 603.50,401.0 603.25,401.0 603.00,401.0 602.75,368.3 602.50,368.3 602.25,368.3 602.00,368.3 601.75,428.6 601.50,428.6 601.25,428.6 601.00,428.6 600.75,428.6 600.50,428.6 600.25,428.6 600.00,368.3 599.75,391.4 599.50,391.4 599.25,391.4 599.00,391.4 598.75,391.4 598.50,391.4 598.25,391.4 598.00,368.3 597.75,420.0 597.50,420.0 597.25,420.0 597.00,420.0 596.75,420.0 596.50,420.0 596.25,368.3 596.00,421.0 595.75,421.0 595.50,421.0 595.25,421.0 595.00,421.0 594.75,421.0 594.50,421.0 594.25,368.3 594.00,368.3 593.75,368.3 593.50,368.3 593.25,391.4 593.00,391.4 592.75,391.4 592.50,391.4 592.25,391.4 592.00,391.4 591.75,391.4 591.50,364.3 591.25,364.3 591.00,364.3 590.75,414.3 590.50,414.3 590.25,414.3 590.00,414.3 589.75,414.3 589.50,414.3 589.25,414.3 589.00,364.3 588.75,364.3 588.50,364.3 588.25,385.7 588.00,385.7 587.75,385.7 587.50,385.7 587.25,385.7 587.00,410.0 586.75,410.0 586.50,410.0 586.25,410.0 586.00,447.6 585.75,447.6 585.50,447.6 585.25,447.6 585.00,447.6 584.75,447.6 584.50,447.6 584.25,410.0 584.00,410.0 583.75,410.0 583.50,410.0 583.25,368.3 583.00,391.4 582.75,391.4 582.50,391.4 582.25,391.4 582.00,391.4 581.75,391.4 581.50,391.4 581.25,363.1 581.00,363.1 580.75,363.1 580.50,363.1 580.25,363.1 580.00,363.1 579.75,384.0 579.50,384.0 579.25,384.0 579.00,384.0 578.75,384.0 578.50,384.0 578.25,384.0 578.00,420.0 577.75,420.0 577.50,420.0 577.25,420.0 577.00,458.0 576.75,458.0 576.50,458.0 576.25,458.0 576.00,458.0 575.75,458.0 575.50,458.0 575.25,430.0 575.00,430.0 574.75,430.0 574.50,430.0 574.25,430.0 574.00,442.9 573.75,442.9 573.50,442.9 573.25,442.9 573.00,442.9 572.75,442.9 572.50,442.9 572.25,395.3 572.00,395.3 571.75,440.0 571.50,440.0 571.25,440.0 571.00,440.0 570.75,440.0 570.50,475.2 570.25,475.2 570.00,475.2 569.75,475.2 569.50,475.2 569.25,475.2 569.00,440.0 568.75,440.0 568.50,440.0 568.25,440.0 568.00,440.0 567.75,418.0 567.50,418.0 567.25,418.0 567.00,418.0 566.75,440.0 566.50,440.0 566.25,440.0 566.00,440.0 565.75,440.0 565.50,502.9 565.25,502.9 565.00,502.9 564.75,502.9 564.50,502.9 564.25,502.9 564.00,502.9 563.75,440.0 563.50,440.0 563.25,440.0 563.00,440.0 562.75,427.6 562.50,430.0 562.25,430.0 562.00,430.0 561.75,430.0 561.50,430.0 561.25,472.4 561.00,472.4 560.75,472.4 560.50,472.4 560.25,472.4 560.00,472.4 559.75,430.0 559.50,430.0 559.25,430.0 559.00,430.0 558.75,430.0 558.50,388.3 558.25,363.1 558.00,363.1 557.75,446.7 557.50,446.7 557.25,446.7 557.00,446.7 556.75,446.7 556.50,446.7 556.25,420.0 556.00,420.0 555.75,420.0 555.50,420.0 555.25,420.0 555.00,384.0 554.75,384.0 554.50,384.0 554.25,384.0 554.00,384.0 553.75,384.0 553.50,384.0 553.25,420.0 553.00,420.0 552.75,420.0 552.50,420.0 552.25,420.0 552.00,445.7 551.75,445.7 551.50,445.7 551.25,445.7 551.00,445.7 550.75,445.7 550.50,420.0 550.25,420.0 550.00,420.0 549.75,420.0 549.50,420.0 549.25,383.8 549.00,383.8 548.75,383.8 548.50,383.8 548.25,383.8 548.00,383.8 547.75,362.9 547.50,362.9 547.25,362.9 547.00,362.9 546.75,362.9 546.50,362.9 546.25,362.9 546.00,362.9 545.75,362.9 545.50,394.3 545.25,394.3 545.00,394.3 544.75,394.3 544.50,394.3 544.25,394.3 544.00,394.3 543.75,370.3 543.50,370.3 543.25,370.3 543.00,370.3 542.75,370.3 542.50,401.0 542.25,401.0 542.00,401.0 541.75,401.0 541.50,401.0 541.25,401.0 541.00,370.3 540.75,417.4 540.50,417.4 540.25,417.4 540.00,417.4 539.75,417.4 539.50,417.4 539.25,417.4 539.00,356.1 538.75,356.1 538.50,356.1 538.25,356.1 538.00,356.1 537.75,356.1 537.50,374.0 537.25,374.0 537.00,374.0 536.75,374.0 536.50,374.0 536.25,374.0 536.00,374.0 535.75,356.1 535.50,356.1 535.25,356.1 535.00,398.6 534.75,398.6 534.50,398.6 534.25,398.6 534.00,398.6 533.75,398.6 533.50,356.1 533.25,411.5 533.00,411.5 532.75,411.5 532.50,411.5 532.25,411.5 532.00,411.5 531.75,411.5 531.50,357.8 531.25,357.8 531.00,357.8 530.75,357.8 530.50,357.8 530.25,357.8 530.00,357.8 529.75,357.8 529.50,357.8 529.25,376.4 529.00,376.4 528.75,376.4 528.50,376.4 528.25,376.4 528.00,376.4 527.75,357.8 527.50,357.8 527.25,357.8 527.00,393.4 526.75,393.4 526.50,393.4 526.25,393.4 526.00,393.4 525.75,393.4 525.50,393.4 525.25,357.8 525.00,357.8 524.75,357.8 524.50,369.7 524.25,369.7 524.00,400.4 523.75,400.4 523.50,400.4 523.25,400.4 523.00,400.4 522.75,400.4 522.50,400.4 522.25,374.6 522.00,374.6 521.75,374.6 521.50,374.6 521.25,374.6 521.00,431.4 520.75,431.4 520.50,431.4 520.25,431.4 520.00,431.4 519.75,431.4 519.50,374.6 519.25,378.7 519.00,347.7 518.75,347.7 518.50,347.7 518.25,347.7 518.00,347.7 517.75,347.7 517.50,406.3 517.25,406.3 517.00,406.3 516.75,406.3 516.50,406.3 516.25,406.3 516.00,347.7 515.75,362.0 515.50,362.0 515.25,362.0 515.00,362.0 514.75,362.0 514.50,362.0 514.25,347.7 514.00,347.7 513.75,347.7 513.50,409.2 513.25,409.2 513.00,409.2 512.75,409.2 512.50,409.2 512.25,409.2 512.00,409.2 511.75,347.7 511.50,347.7 511.25,347.7 511.00,380.7 510.75,380.7 510.50,380.7 510.25,380.7 510.00,380.7 509.75,380.7 509.50,380.7 509.25,380.7 509.00,380.7 508.75,411.5 508.50,411.5 508.25,411.5 508.00,411.5 507.75,411.5 507.50,411.5 507.25,382.3 507.00,382.3 506.75,370.8 506.50,430.3 506.25,430.3 506.00,430.3 505.75,430.3 505.50,430.3 505.25,430.3 505.00,430.3 504.75,370.8 504.50,358.9 504.25,358.9 504.00,358.9 503.75,358.9 503.50,395.1 503.25,395.1 503.00,395.1 502.75,395.1 502.50,395.1 502.25,395.1 502.00,395.1 501.75,358.9 501.50,358.9 501.25,378.0 501.00,378.0 500.75,378.0 500.50,378.0 500.25,378.0 500.00,378.0 499.75,378.0 499.50,385.8 499.25,385.8 499.00,385.8 498.75,385.8 498.50,385.8 498.25,385.8 498.00,385.8 497.75,358.9 497.50,358.9 497.25,358.9 497.00,404.5 496.75,404.5 496.50,404.5 496.25,404.5 496.00,404.5 495.75,404.5 495.50,404.5 495.25,346.3 495.00,346.3 494.75,346.3 494.50,346.3 494.25,346.3 494.00,346.3 493.75,346.3 493.50,360.0 493.25,360.0 493.00,360.0 492.75,360.0 492.50,360.0 492.25,360.0 492.00,346.3 491.75,346.3 491.50,346.3 491.25,365.9 491.00,365.9 490.75,365.9 490.50,365.9 490.25,365.9 490.00,365.9 489.75,365.9 489.50,346.3 489.25,346.3 489.00,346.3 488.75,350.4 488.50,350.4 488.25,394.0 488.00,394.0 487.75,394.0 487.50,394.0 487.25,394.0 487.00,394.0 486.75,350.4 486.50,350.4 486.25,363.1 486.00,404.5 485.75,404.5 485.50,404.5 485.25,404.5 485.00,404.5 484.75,404.5 484.50,404.5 484.25,363.1 484.00,363.1 483.75,363.1 483.50,384.0 483.25,384.0 483.00,384.0 482.75,384.0 482.50,384.0 482.25,384.0 482.00,385.2 481.75,385.2 481.50,385.2 481.25,385.2 481.00,385.2 480.75,385.2 480.50,385.2 480.25,344.2 480.00,344.2 479.75,344.2 479.50,344.2 479.25,357.0 479.00,357.0 478.75,357.0 478.50,357.0 478.25,357.0 478.00,357.0 477.75,357.0 477.50,338.4 477.25,338.4 477.00,338.4 476.75,338.4 476.50,334.8 476.25,334.8 476.00,348.7 475.75,348.7 475.50,348.7 475.25,348.7 475.00,348.7 474.75,348.7 474.50,348.7 474.25,334.8 474.00,334.8 473.75,334.8 473.50,343.6 473.25,343.6 473.00,343.6 472.75,343.6 472.50,343.6 472.25,343.6 472.00,343.6 471.75,334.8 471.50,334.8 471.25,334.8 471.00,334.8 470.75,349.5 470.50,349.5 470.25,349.5 470.00,349.5 469.75,349.5 469.50,349.5 469.25,326.6 469.00,326.6 468.75,326.6 468.50,326.6 468.25,326.6 468.00,326.6 467.75,326.6 467.50,331.9 467.25,331.9 467.00,331.9 466.75,331.9 466.50,331.9 466.25,331.9 466.00,331.9 466.00,326.0 464.30,326.0 464.30,327.9 462.30,327.9 462.30,327.2 460.30,327.2 460.30,325.8 458.30,325.8 458.30,328.3 456.30,328.3 456.30,323.9 454.30,323.9 454.30,326.4 452.30,326.4 452.30,323.9 450.30,323.9 450.30,326.9 448.30,326.9 448.30,323.7 446.30,323.7 446.30,328.5 444.30,328.5 444.30,324.3 442.30,324.3 442.30,326.8 440.30,326.8 440.30,324.5 438.30,324.5 438.30,326.9 436.30,326.9 436.30,328.0 434.30,328.0 434.30,328.5 432.30,328.5 432.30,327.5 430.30,327.5 430.30,325.3 428.30,325.3 428.30,327.4 426.30,327.4 426.30,329.7 424.30,329.7 424.30,326.5 422.30,326.5 422.30,325.1 420.30,325.1 420.30,325.9 418.30,325.9 418.30,326.1 416.30,326.1 416.30,324.3 414.30,324.3 414.30,326.1 412.30,326.1 412.30,325.5 410.30,325.5 410.30,328.7 408.30,328.7 408.30,326.2 406.30,326.2 406.30,326.8 404.30,326.8 404.30,329.5 402.30,329.5 402.30,327.5 400.30,327.5 400.30,327.4 398.30,327.4 398.30,330.9 396.30,330.9 396.30,331.2 394.30,331.2 394.30,331.0 392.30,331.0 392.30,332.4 390.30,332.4 390.30,331.6 388.30,331.6 388.30,327.5 386.30,327.5 386.30,328.2 384.30,328.2 384.30,329.9 382.30,329.9 382.30,328.4 380.30,328.4 380.30,326.2 378.30,326.2 378.30,324.9 376.30,324.9 376.30,324.8 374.30,324.8 374.30,325.5 372.30,325.5 372.30,325.3 370.30,325.3 370.30,325.3 368.30,325.3 368.30,323.9 366.30,323.9 366.30,322.6 364.30,322.6 364.30,323.4 362.30,323.4 362.30,326.6 360.30,326.6 360.30,329.7 358.30,329.7 358.30,328.0 356.30,328.0 356.30,327.1 354.30,327.1 354.30,329.7 352.30,329.7 352.30,327.6 350.30,327.6 350.30,328.2 348.30,328.2 348.30,331.1 346.30,331.1 346.30,326.2 344.30,326.2 344.30,328.2 342.30,328.2 342.30,324.3 340.30,324.3 340.30,326.0 338.30,326.0 338.30,327.9 336.30,327.9 336.30,327.5 334.30,327.5 334.30,326.3 332.30,326.3 332.30,324.1 330.30,324.1 330.30,325.6 328.30,325.6 328.30,324.6 326.30,324.6 326.30,325.2 324.30,325.2 324.30,327.5 322.30,327.5 322.30,325.0 320.30,325.0 320.30,327.0 318.30,327.0 318.30,327.1 316.30,327.1 316.30,327.3 314.30,327.3 314.30,326.2 312.30,326.2 312.30,326.6 310.30,326.6 310.30,328.2 308.30,328.2 308.30,331.4 306.30,331.4 306.30,328.9 304.30,328.9 304.30,326.4 302.30,326.4 302.30,330.2 300.30,330.2 300.30,327.4 298.30,327.4 298.30,328.4 296.30,328.4 296.30,328.3 294.30,328.3 294.30,325.3 292.30,325.3 292.30,324.5 290.30,324.5 290.30,327.2 288.30,327.2 288.30,324.4 286.30,324.4 286.30,325.2 284.30,325.2 284.30,324.5 282.30,324.5 282.30,325.7 280.30,325.7 280.30,326.8 278.30,326.8 278.30,327.4 276.30,327.4 276.30,325.1 274.30,325.1 274.30,327.3 272.30,327.3 272.30,324.9 270.30,324.9 270.30,331.0 268.30,331.0 268.30,330.1 266.30,330.1 266.30,328.0 264.30,328.0 264.30,328.7 262.30,328.7 262.30,328.1 260.30,328.1 260.30,325.0 258.30,325.0 258.30,329.2 256.30,329.2 256.30,326.6 254.30,326.6 254.30,324.2 252.30,324.2 252.30,324.6 250.30,324.6 250.30,327.8 248.30,327.8 248.30,326.5 246.30,326.5 246.30,328.4 244.30,328.4 244.30,326.0 242.30,326.0 242.30,326.1 240.30,326.1 240.30,326.5 238.30,326.5 238.30,329.5 236.30,329.5 236.30,330.7 234.30,330.7 234.30,332.8 232.30,332.8 232.30,326.2 230.30,326.2 230.30,326.3 228.30,326.3 228.30,328.2 226.30,328.2 226.30,333.0 224.30,333.0 224.30,329.2 222.30,329.2 222.30,325.9 220.30,325.9 220.30,331.3 218.30,331.3 218.30,327.0 216.30,327.0 216.30,325.6 214.30,325.6 214.30,327.8 212.30,327.8 212.30,329.5 210.30,329.5 210.30,327.4 208.30,327.4 208.30,324.8 206.30,324.8 206.30,324.8 204.30,324.8 204.30,325.0 202.30,325.0 202.30,325.8 200.30,325.8 200.30,324.9 198.30,324.9 198.30,327.6 196.30,327.6 196.30,326.8 194.30,326.8 194.30,324.3 192.30,324.3 192.30,325.4 190.30,325.4 190.30,329.5 188.30,329.5 188.30,327.4 186.30,327.4 186.30,325.8 184.30,325.8 184.30,329.3 182.30,329.3 182.30,325.4 180.30,325.4 180.30,326.5 178.30,326.5 178.30,325.4 176.30,325.4 176.30,327.3 174.30,327.3 174.30,327.3 172.30,327.3 172.30,323.1 170.30,323.1 170.30,323.8 168.30,323.8 168.30,324.3 166.30,324.3 166.30,327.8 164.30,327.8 164.30,327.1 162.30,327.1 162.30,329.4 160.30,329.4 160.30,325.5 158.30,325.5 158.30,328.6 156.30,328.6 156.30,324.1 154.30,324.1 154.30,324.3 152.30,324.3 152.30,327.8 150.30,327.8 150.30,327.6 148.30,327.6 148.30,324.2 146.30,324.2 146.30,327.7 144.30,327.7 144.30,323.1 142.30,323.1 142.30,326.9 140.30,326.9 140.30,322.2 138.30,322.2 138.30,324.1 136.30,324.1 136.30,321.5 134.30,321.5 134.30,321.5 132.30,321.5 132.30,320.2 130.30,320.2 130.30,321.5 128.30,321.5 128.30,323.5 126.30,323.5 126.30,322.9 124.30,322.9 124.30,324.6 122.30,324.6 122.30,326.0 120.30,326.0 120.30,321.4 118.30,321.4 118.30,324.1 116.30,324.1 116.30,323.1 114.30,323.1 114.30,323.0 112.30,323.0 112.30,325.8 110.30,325.8 110.30,324.2 108.30,324.2 108.30,325.5 106.30,325.5 106.30,326.2 104.30,326.2 104.30,325.1 102.30,325.1 102.30,325.3 100.30,325.3 100.30,325.0 98.30,325.0 98.30,328.6 96.30,328.6 96.30,325.0 94.30,325.0 94.30,325.3 92.30,325.3 92.30,325.2 90.30,325.2 90.30,325.6 88.30,325.6 88.30,325.4 86.30,325.4 86.30,331.3 84.30,331.3 84.30,329.1 82.30,329.1 82.30,324.6 80.30,324.6 80.30,326.0 78.30,326.0" fill="#1f77b4" stroke="#1f77b4" stroke-width="1" stroke-linejoin="miter"/>
<line x1="78.53" y1="18.5" x2="1058.2" y2="18.5" stroke="#b0b0b0" stroke-width="1" stroke-dasharray="4.52,1.954"/>
<line x1="78.53" y1="92.5" x2="1058.2" y2="92.5" stroke="#b0b0b0" stroke-width="1" stroke-dasharray="4.52,1.954"/>
<line x1="78.53" y1="166.5" x2="1058.2" y2="166.5" stroke="#b0b0b0" stroke-width="1" stroke-dasharray="4.52,1.954"/>
<line x1="78.53" y1="240.5" x2="1058.2" y2="240.5" stroke="#b0b0b0" stroke-width="1" stroke-dasharray="4.52,1.954"/>
<line x1="78.53" y1="314.5" x2="1058.2" y2="314.5" stroke="#b0b0b0" stroke-width="1" stroke-dasharray="4.52,1.954"/>
<line x1="78.53" y1="388.5" x2="1058.2" y2="388.5" stroke="#b0b0b0" stroke-width="1" stroke-dasharray="4.52,1.954"/>
<line x1="78.53" y1="462.5" x2="1058.2" y2="462.5" stroke="#b0b0b0" stroke-width="1" stroke-dasharray="4.52,1.954"/>
<line x1="78.53" y1="536.5" x2="1058.2" y2="536.5" stroke="#b0b0b0" stroke-width="1" stroke-dasharray="4.52,1.954"/>
<line x1="78.53" y1="610.5" x2="1058.2" y2="610.5" stroke="#b0b0b0" stroke-width="1" stroke-dasharray="4.52,1.954"/>
<line x1="78.4" y1="610.5" x2="78.4" y2="18.25" stroke="#b0b0b0" stroke-width="1.1" stroke-dasharray="4.52,1.954"/>
<line x1="200.88" y1="610.5" x2="200.88" y2="18.25" stroke="#b0b0b0" stroke-width="1.1" stroke-dasharray="4.52,1.954"/>
<line x1="323.35" y1="610.5" x2="323.35" y2="18.25" stroke="#b0b0b0" stroke-width="1.1" stroke-dasharray="4.52,1.954"/>
<line x1="445.83" y1="610.5" x2="445.83" y2="18.25" stroke="#b0b0b0" stroke-width="1.1" stroke-dasharray="4.52,1.954"/>
<line x1="568.3" y1="610.5" x2="568.3" y2="18.25" stroke="#b0b0b0" stroke-width="1.1" stroke-dasharray="4.52,1.954"/>
<line x1="690.77" y1="610.5" x2="690.77" y2="18.25" stroke="#b0b0b0" stroke-width="1.1" stroke-dasharray="4.52,1.954"/>
<line x1="813.25" y1="610.5" x2="813.25" y2="18.25" stroke="#b0b0b0" stroke-width="1.1" stroke-dasharray="4.52,1.954"/>
<line x1="935.73" y1="610.5" x2="935.73" y2="18.25" stroke="#b0b0b0" stroke-width="1.1" stroke-dasharray="4.52,1.954"/>
<line x1="1058.2" y1="610.5" x2="1058.2" y2="18.25" stroke="#b0b0b0" stroke-width="1.1" stroke-dasharray="4.52,1.954"/>
<line x1="78.4" y1="18.25" x2="78.4" y2="610.25" stroke="#000" stroke-width="1.3"/>
<line x1="78.4" y1="314.25" x2="1058.2" y2="314.25" stroke="#000" stroke-width="1.3"/>
<line x1="73.2" y1="18.25" x2="78.4" y2="18.25" stroke="#000" stroke-width="1.3"/>
<text x="67.6" y="25.55" text-anchor="end" class="tk">40</text>
<line x1="73.2" y1="92.25" x2="78.4" y2="92.25" stroke="#000" stroke-width="1.3"/>
<text x="67.6" y="99.55" text-anchor="end" class="tk">30</text>
<line x1="73.2" y1="166.25" x2="78.4" y2="166.25" stroke="#000" stroke-width="1.3"/>
<text x="67.6" y="173.55" text-anchor="end" class="tk">20</text>
<line x1="73.2" y1="240.25" x2="78.4" y2="240.25" stroke="#000" stroke-width="1.3"/>
<text x="67.6" y="247.55" text-anchor="end" class="tk">10</text>
<line x1="73.2" y1="314.25" x2="78.4" y2="314.25" stroke="#000" stroke-width="1.3"/>
<text x="67.6" y="321.55" text-anchor="end" class="tk">0</text>
<line x1="73.2" y1="388.25" x2="78.4" y2="388.25" stroke="#000" stroke-width="1.3"/>
<text x="67.6" y="395.55" text-anchor="end" class="tk">-10</text>
<line x1="73.2" y1="462.25" x2="78.4" y2="462.25" stroke="#000" stroke-width="1.3"/>
<text x="67.6" y="469.55" text-anchor="end" class="tk">-20</text>
<line x1="73.2" y1="536.25" x2="78.4" y2="536.25" stroke="#000" stroke-width="1.3"/>
<text x="67.6" y="543.55" text-anchor="end" class="tk">-30</text>
<line x1="73.2" y1="610.25" x2="78.4" y2="610.25" stroke="#000" stroke-width="1.3"/>
<text x="67.6" y="617.55" text-anchor="end" class="tk">-40</text>
<line x1="78.4" y1="314.25" x2="78.4" y2="319.65" stroke="#000" stroke-width="1.3"/>
<text x="78.40" y="339.7" text-anchor="middle" class="tk">0</text>
<line x1="200.875" y1="314.25" x2="200.875" y2="319.65" stroke="#000" stroke-width="1.3"/>
<text x="200.88" y="339.7" text-anchor="middle" class="tk">10</text>
<line x1="323.35" y1="314.25" x2="323.35" y2="319.65" stroke="#000" stroke-width="1.3"/>
<text x="323.35" y="339.7" text-anchor="middle" class="tk">20</text>
<line x1="445.82500000000005" y1="314.25" x2="445.82500000000005" y2="319.65" stroke="#000" stroke-width="1.3"/>
<text x="445.83" y="339.7" text-anchor="middle" class="tk">30</text>
<line x1="568.3000000000001" y1="314.25" x2="568.3000000000001" y2="319.65" stroke="#000" stroke-width="1.3"/>
<text x="568.30" y="339.7" text-anchor="middle" class="tk">40</text>
<line x1="690.775" y1="314.25" x2="690.775" y2="319.65" stroke="#000" stroke-width="1.3"/>
<text x="690.77" y="339.7" text-anchor="middle" class="tk">50</text>
<line x1="813.25" y1="314.25" x2="813.25" y2="319.65" stroke="#000" stroke-width="1.3"/>
<text x="813.25" y="339.7" text-anchor="middle" class="tk">60</text>
<line x1="935.725" y1="314.25" x2="935.725" y2="319.65" stroke="#000" stroke-width="1.3"/>
<text x="935.73" y="339.7" text-anchor="middle" class="tk">70</text>
<line x1="1058.2" y1="314.25" x2="1058.2" y2="319.65" stroke="#000" stroke-width="1.3"/>
<text x="1058.20" y="339.7" text-anchor="middle" class="tk">80</text>
<rect x="939.6" y="28.7" width="108.4" height="36.7" fill="#fff" stroke="#000" stroke-width="1.4"/>
<line x1="947.6" y1="45.1" x2="992" y2="45.1" stroke="#1f77b4" stroke-width="2.1"/>
<text x="1008.5" y="53" class="tk">UD</text>
<text x="568.3" y="667.4" text-anchor="middle" class="lb">Time(s)</text>
<text transform="translate(28,314.8) rotate(-90)" text-anchor="middle" class="lb">Acceleration(cm/s^2)</text>
</svg></body></html>
